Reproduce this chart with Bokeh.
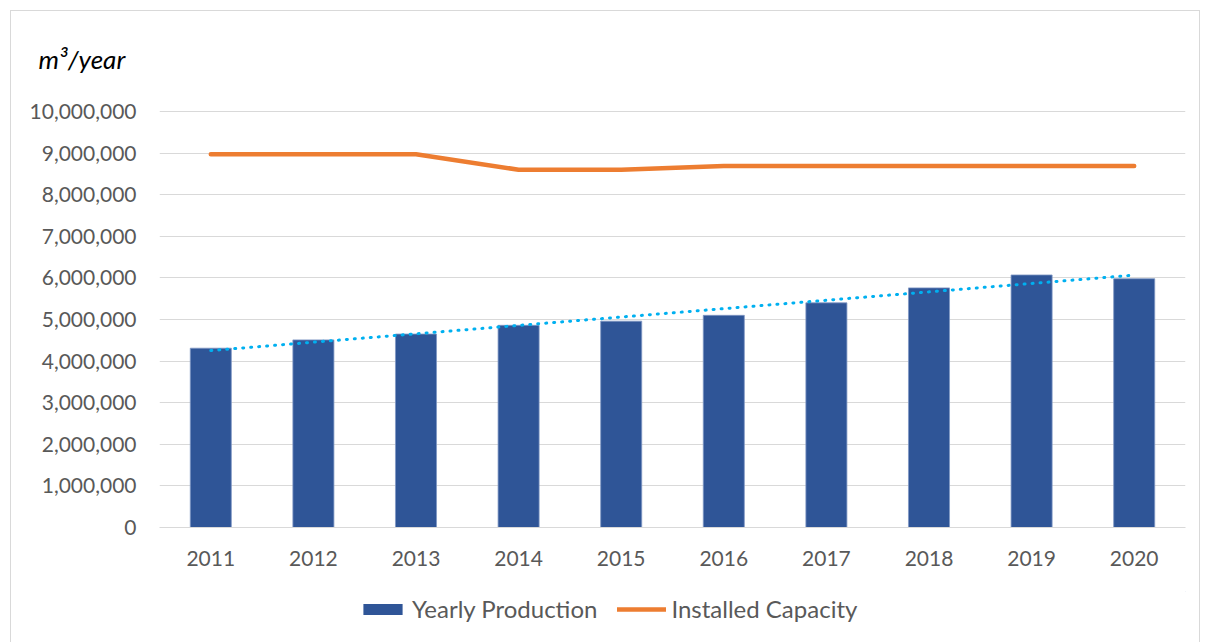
import numpy as np
from bokeh.plotting import figure
from bokeh.layouts import column
from bokeh.models import (Range1d, FactorRange, NumeralTickFormatter, FixedTicker,
                          Legend, LegendItem)
from bokeh.embed import file_html
from bokeh.resources import INLINE

# Data (m3 per year)
years = ["2011", "2012", "2013", "2014", "2015", "2016", "2017", "2018", "2019", "2020"]
yearly_production = [4310000, 4510000, 4650000, 4860000, 4960000, 5100000, 5400000, 5760000, 6070000, 5980000]
installed_capacity = [8970000, 8970000, 8970000, 8600000, 8600000, 8690000, 8690000, 8690000, 8690000, 8690000]
y_ticks = [0, 1000000, 2000000, 3000000, 4000000, 5000000, 6000000, 7000000, 8000000, 9000000, 10000000]

# Linear trend of production
idx = np.arange(len(years))
slope, intercept = np.polyfit(idx, yearly_production, 1)
trend = list(slope * idx + intercept)

FONT = "Lato"
TXT = "#595959"
GRID = "#d9d9d9"
BAR_COLOR = "#2F5597"
CAP_COLOR = "#ED7D31"

p = figure(
    width=1188, height=580,
    x_range=FactorRange(*years, range_padding=0),
    y_range=Range1d(0, 10240000),
    output_backend="svg", toolbar_location=None,
    min_border_left=148, min_border_right=14, min_border_top=90, min_border_bottom=64,
    title="m³/year",
)
p.outline_line_color = None
p.background_fill_color = "white"
p.border_fill_color = "white"

p.title.text_font = FONT
p.title.text_font_style = "italic"
p.title.text_font_size = "26px"
p.title.text_color = "black"
p.title.align = "left"
p.title.offset = -121
p.title.standoff = 53

p.vbar(x=years, top=yearly_production, width=0.4, fill_color=BAR_COLOR,
       line_color="#7f97c4", line_width=0.8)
p.line(x=years, y=installed_capacity, line_color=CAP_COLOR, line_width=4.5,
       line_cap="round", line_join="round")
p.line(x=years, y=trend, line_color="#00B0F0", line_width=3, line_dash="1 7",
       line_cap="round")

p.xgrid.grid_line_color = None
p.ygrid.grid_line_color = GRID
p.ygrid.grid_line_width = 1.2
p.yaxis.ticker = FixedTicker(ticks=y_ticks)
p.yaxis.formatter = NumeralTickFormatter(format="0,0")
p.yaxis.axis_line_color = None
p.yaxis.major_tick_line_color = None
p.yaxis.minor_tick_line_color = None
p.yaxis.major_label_standoff = 17
p.xaxis.axis_line_color = GRID
p.xaxis.axis_line_width = 1.2
p.xaxis.major_tick_line_color = None
p.xaxis.major_label_standoff = 17
for ax in (p.xaxis, p.yaxis):
    ax.major_label_text_font = FONT
    ax.major_label_text_font_size = "21px"
    ax.major_label_text_color = TXT

# Legend strip under the chart; its key glyphs sit outside the visible range
lf = figure(width=1188, height=60, x_range=Range1d(0, 1), y_range=Range1d(0, 1),
            x_axis_location=None, y_axis_location=None,
            output_backend="svg", toolbar_location=None, min_border=0)
lf.grid.grid_line_color = None
lf.outline_line_color = None
lf.border_fill_color = "white"
lf.background_fill_color = "white"
bar_key = lf.vbar(x=[5], top=[5], bottom=[4], width=0.4, fill_color=BAR_COLOR, line_color=None)
cap_key = lf.line(x=[5, 6], y=[5, 5], line_color=CAP_COLOR, line_width=4.5, line_cap="round")
legend = Legend(
    items=[LegendItem(label="Yearly Production", renderers=[bar_key]),
           LegendItem(label="Installed Capacity", renderers=[cap_key])],
    orientation="horizontal", location=(199, 28),
    label_text_font=FONT, label_text_font_size="24px", label_text_color=TXT,
    glyph_width=49, glyph_height=14, label_standoff=5, spacing=20,
    border_line_color=None, background_fill_alpha=0, margin=0, padding=0,
)
lf.add_layout(legend)

layout = column(p, lf, spacing=0)
layout.margin = (10, 0, 0, 10)
layout.styles = {"border": "1.5px solid #d9d9d9", "background-color": "white"}

open("out.html", "w").write(file_html(layout, INLINE))
